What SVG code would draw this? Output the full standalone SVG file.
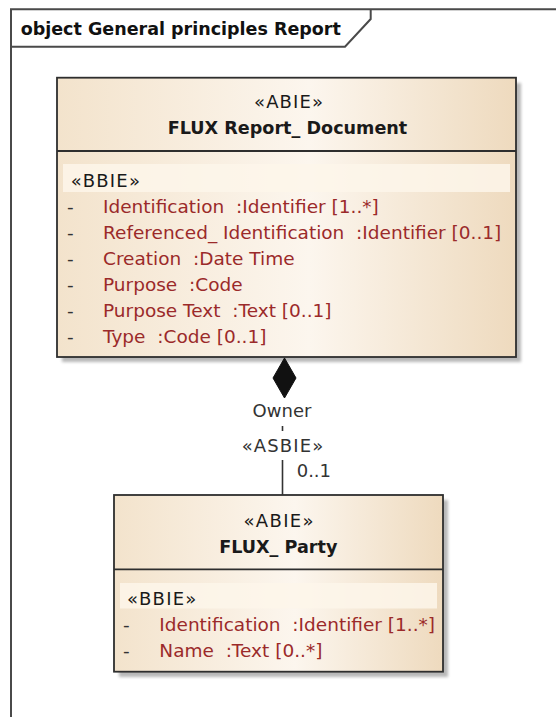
<svg xmlns="http://www.w3.org/2000/svg" width="556" height="717" viewBox="0 0 556 717">
<style>
text{font-family:"DejaVu Sans","Liberation Sans",sans-serif;}
.title{font-weight:bold;font-size:17.5px;fill:#111;}
.name{font-weight:bold;font-size:17.6px;fill:#1a1a1a;text-anchor:middle;}
.stereo{font-size:18px;fill:#1a1a1a;}
.mid{text-anchor:middle;}
.attr{font-size:18.5px;fill:#9b2a2a;white-space:pre;}
.dash{font-size:18.5px;fill:#333;}
.lbl{font-size:18px;fill:#333;}
.box{fill:url(#beige);stroke:#2e2e2e;stroke-width:1.8;}
.div{stroke:#2e2e2e;stroke-width:1.8;fill:none;}
.band{fill:#fdf6ea;opacity:0.85;}
.shadow{fill:#b8b8b8;filter:url(#blur);}
.frame{fill:none;stroke:#4a4a4a;stroke-width:2;}
.conn{fill:none;stroke:#333;stroke-width:1.6;}
</style>
<defs>
<linearGradient id="beige" x1="0" y1="0" x2="1" y2="0">
<stop offset="0" stop-color="#f3e3cc"/>
<stop offset="0.55" stop-color="#fcf6ee"/>
<stop offset="1" stop-color="#eedabe"/>
</linearGradient>
<filter id="blur" x="-5%" y="-5%" width="110%" height="110%"><feGaussianBlur stdDeviation="1.5"/></filter>
</defs>
<rect width="556" height="717" fill="#ffffff"/>
<g id="frame">
<path class="frame" d="M11 717 V9.3 H556"/>
<path class="frame" d="M11 46.7 H345 L370.7 19 V9.3"/>
<text class="title" x="20.7" y="35">object General principles Report</text>
</g>
<g id="node-flux-report-document">
<rect class="shadow" x="62" y="83" width="459" height="279"/>
<rect class="box" x="57" y="77.7" width="459" height="279.3"/>
<line class="div" x1="57" y1="151" x2="516" y2="151"/>
<rect class="band" x="63" y="164" width="447" height="28"/>
<text class="stereo mid" x="288.5" y="108.3" textLength="69" lengthAdjust="spacing">«ABIE»</text>
<text class="name" x="287.5" y="134.3">FLUX Report_ Document</text>
<text class="stereo" x="70.7" y="186.7" textLength="69.3" lengthAdjust="spacing">«BBIE»</text>
<text class="dash" x="67" y="213.3">-</text>
<text class="attr" x="103" y="213.3" xml:space="preserve">Identification  :Identifier [1..*]</text>
<text class="dash" x="67" y="239.2">-</text>
<text class="attr" x="103" y="239.2" xml:space="preserve">Referenced_ Identification  :Identifier [0..1]</text>
<text class="dash" x="67" y="265.1">-</text>
<text class="attr" x="103" y="265.1" xml:space="preserve">Creation  :Date Time</text>
<text class="dash" x="67" y="291">-</text>
<text class="attr" x="103" y="291" xml:space="preserve">Purpose  :Code</text>
<text class="dash" x="67" y="316.9">-</text>
<text class="attr" x="103" y="316.9" xml:space="preserve">Purpose Text  :Text [0..1]</text>
<text class="dash" x="67" y="342.8">-</text>
<text class="attr" x="103" y="342.8" xml:space="preserve">Type  :Code [0..1]</text>
</g>
<g id="node-flux-party">
<rect class="shadow" x="119" y="500" width="329" height="177"/>
<rect class="box" x="114" y="495" width="329" height="176.7"/>
<line class="div" x1="114" y1="569.3" x2="443" y2="569.3"/>
<rect class="band" x="120" y="583" width="317" height="25.5"/>
<text class="stereo mid" x="278.5" y="527.3" textLength="70" lengthAdjust="spacing">«ABIE»</text>
<text class="name" x="278.3" y="553.3">FLUX_ Party</text>
<text class="stereo" x="127" y="604.5" textLength="69.3" lengthAdjust="spacing">«BBIE»</text>
<text class="dash" x="123" y="630.5">-</text>
<text class="attr" x="159.3" y="630.5" xml:space="preserve">Identification  :Identifier [1..*]</text>
<text class="dash" x="123" y="656.7">-</text>
<text class="attr" x="159.3" y="656.7" xml:space="preserve">Name  :Text [0..*]</text>
</g>
<g id="connectors">
<polygon fill="#111" stroke="#111" stroke-width="1" points="284.5,358 296,378 284.5,398 273,378"/>
<path class="conn" d="M282.5 426 V431 M282.5 460 V495"/>
<text class="lbl mid" x="282" y="416.7">Owner</text>
<text class="lbl mid" x="282.5" y="451.7" textLength="81.6" lengthAdjust="spacing">«ASBIE»</text>
<text class="lbl" x="296.7" y="477">0..1</text>
</g>
</svg>
